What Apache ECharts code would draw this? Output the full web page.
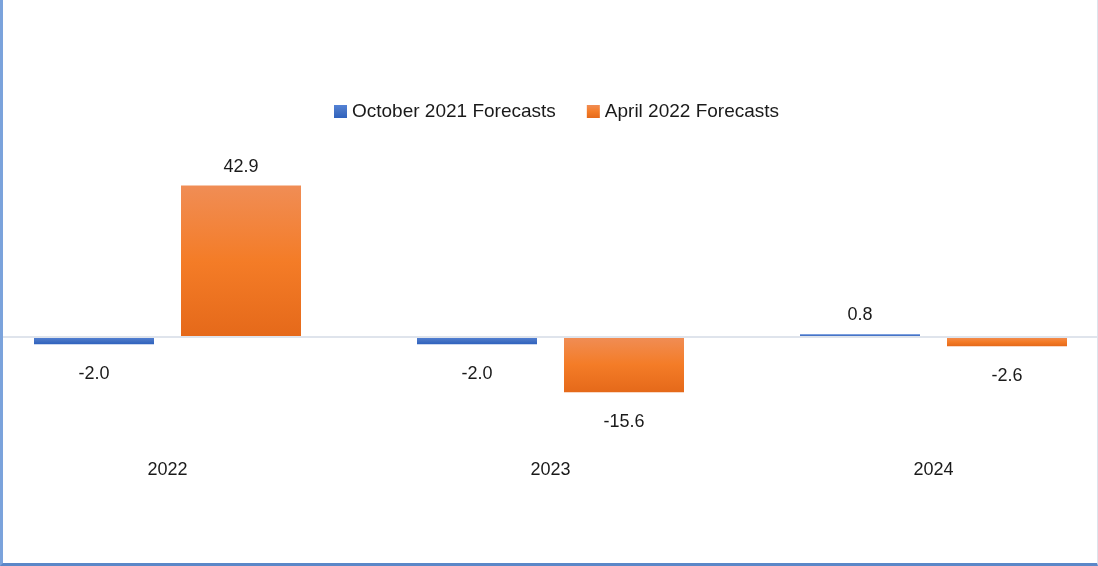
<!DOCTYPE html>
<html lang="en">

<head>
  <meta charset="UTF-8">
  <title>Forecasts</title>
  <script src="https://cdn.jsdelivr.net/npm/echarts@6/dist/echarts.min.js"></script>
  <style>
    * {
      margin: 0;
      padding: 0;
    }

    #wrap {
      position: relative;
      width: 1098px;
      height: 566px;
      overflow: hidden;
      background: #fff;
    }

    /* plot is wider than the page: the outer halves of the first and last category are cut off */
    #chart {
      position: absolute;
      left: -24px;
      top: 0;
      width: 1149px;
      height: 566px;
    }

    /* frame round the chart */
    #frame {
      position: absolute;
      left: 0;
      top: 0;
      width: 1098px;
      height: 566px;
      box-sizing: border-box;
      border-left: 3px solid #7ba3dc;
      border-bottom: 3px solid #5b87c8;
      border-right: 1px solid #dde3ec;
      pointer-events: none;
    }
  </style>
</head>

<body>
  <div id="wrap">
    <div id="chart"></div>
    <div id="frame"></div>
  </div>
</body>

<script>
  // data
  var years = ['2022', '2023', '2024'];
  var oct2021 = [-2.0, -2.0, 0.8];
  var apr2022 = [42.9, -15.6, -2.6];

  var font = "'Liberation Sans', Arial, sans-serif";
  var textColor = '#1a1a1a';

  // gradient like the office bars
  function grad(top, mid, bottom) {
    return new echarts.graphic.LinearGradient(0, 0, 0, 1, [
      { offset: 0, color: top },
      { offset: 0.5, color: mid },
      { offset: 1, color: bottom }
    ]);
  }

  // label above for positive, below for negative
  function withLabels(values) {
    return values.map(function (v) {
      return {
        value: v,
        label: {
          position: v >= 0 ? 'top' : 'bottom',
          distance: v >= 0 ? 10 : 21
        }
      };
    });
  }

  var myChart = echarts.init(document.getElementById('chart'));

  var labelStyle = {
    show: true,
    fontFamily: font,
    fontSize: 18,
    color: textColor,
    formatter: function (p) { return p.value.toFixed(1); }
  };

  var option = {
    animation: false,
    legend: {
      top: 97,
      left: 353,
      itemWidth: 13,
      itemHeight: 13,
      itemGap: 31,
      icon: 'rect',
      textStyle: { fontFamily: font, fontSize: 19, color: textColor },
      data: ['October 2021 Forecasts', 'April 2022 Forecasts']
    },
    grid: {
      left: 0,
      right: 0,
      top: 160.5,
      bottom: 123
    },
    xAxis: {
      type: 'category',
      data: years,
      axisLine: { show: false },
      axisTick: { show: false },
      axisLabel: { margin: 18, fontFamily: font, fontSize: 18, color: textColor }
    },
    yAxis: {
      type: 'value',
      min: -30,
      max: 50,
      show: false,
      splitLine: { show: false }
    },
    series: [{
      name: 'October 2021 Forecasts',
      type: 'bar',
      barWidth: 120,
      barGap: '22.5%',
      data: withLabels(oct2021),
      itemStyle: { color: grad('#5482d6', '#4472c4', '#2f62be') },
      label: labelStyle,
      markLine: {
        silent: true,
        symbol: 'none',
        label: { show: false },
        lineStyle: { color: '#dfe4ec', width: 2, type: 'solid' },
        data: [{ yAxis: 0 }]
      }
    }, {
      name: 'April 2022 Forecasts',
      type: 'bar',
      barWidth: 120,
      barGap: '22.5%',
      data: withLabels(apr2022),
      itemStyle: { color: grad('#f08d55', '#f47c27', '#e5691a') },
      label: labelStyle
    }]
  };

  myChart.setOption(option);
</script>

</html>
